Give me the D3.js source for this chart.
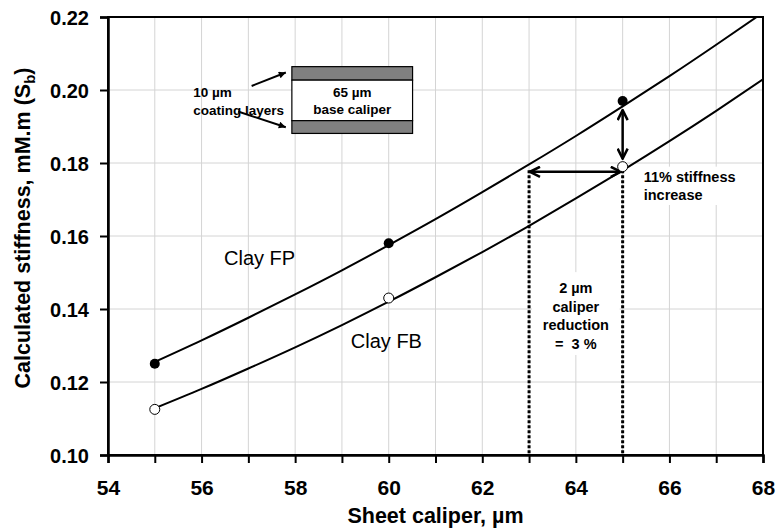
<!DOCTYPE html>
<html lang="en">
<head>
<meta charset="utf-8">
<title>Calculated stiffness vs sheet caliper</title>
<script src="https://cdn.jsdelivr.net/npm/d3@7/dist/d3.min.js"></script>
<style>
body{margin:0;background:#fff;}
svg{display:block;font-family:"Liberation Sans",Arial,sans-serif;}
.lbl{font-weight:bold;font-size:14.5px;fill:#000;}
.ins{font-weight:bold;font-size:13.5px;fill:#000;}
</style>
</head>
<body>
<div id="chart"></div>
<script>
var width = 777,
    height = 529;
var margin = {top: 17, right: 14, bottom: 74, left: 108};

// measured points
var ptsX = [55, 60, 65];
var clayFP = [0.125, 0.158, 0.197];
var clayFB = [0.1125, 0.143, 0.179];

// fitted curves at each micron
var curveX = [55, 56, 57, 58, 59, 60, 61, 62, 63, 64, 65, 66, 67, 68];
var curveFP = [0.1255, 0.1314, 0.1376, 0.1440, 0.1506, 0.1575, 0.1646, 0.1720, 0.1796, 0.1874, 0.1955, 0.2038, 0.2124, 0.2212];
var curveFB = [0.1128, 0.1181, 0.1237, 0.1295, 0.1356, 0.1420, 0.1487, 0.1556, 0.1628, 0.1703, 0.1780, 0.1860, 0.1943, 0.2029];

var xTicks = [54, 56, 58, 60, 62, 64, 66, 68];
var xMinor = [55, 57, 59, 61, 63, 65, 67];
var yTicks = [0.10, 0.12, 0.14, 0.16, 0.18, 0.20, 0.22];

var svg = d3.select("#chart").append("svg")
    .attr("width", width)
    .attr("height", height);

var iw = width - margin.left - margin.right,
    ih = height - margin.top - margin.bottom;

var x = d3.scaleLinear().domain([54, 68]).range([0, iw]);
var y = d3.scaleLinear().domain([0.10, 0.22]).range([ih, 0]);

var defs = svg.append("defs");
defs.append("clipPath").attr("id", "clip")
  .append("rect").attr("width", iw).attr("height", ih);
// open chevron head for the big arrows
defs.append("marker").attr("id", "chev")
    .attr("viewBox", "0 0 12 12").attr("refX", 11).attr("refY", 6)
    .attr("markerWidth", 12).attr("markerHeight", 12)
    .attr("markerUnits", "userSpaceOnUse").attr("orient", "auto-start-reverse")
  .append("path").attr("d", "M1,1 L11,6 L1,11")
    .attr("fill", "none").attr("stroke", "#000").attr("stroke-width", 2.5);
// small filled head for the inset arrows
defs.append("marker").attr("id", "tri")
    .attr("viewBox", "0 0 10 10").attr("refX", 10).attr("refY", 5)
    .attr("markerWidth", 9).attr("markerHeight", 7)
    .attr("markerUnits", "userSpaceOnUse").attr("orient", "auto")
  .append("path").attr("d", "M0,0 L10,5 L0,10 z").attr("fill", "#000");

var g = svg.append("g").attr("transform", "translate(" + margin.left + "," + margin.top + ")");

// grid
g.append("g").selectAll("line").data(d3.range(55, 68))
  .enter().append("line")
    .attr("x1", function(d){ return x(d); }).attr("x2", function(d){ return x(d); })
    .attr("y1", 0).attr("y2", ih)
    .attr("stroke", "#d4d4d4").attr("stroke-width", 1);
g.append("g").selectAll("line").data(yTicks.slice(1, -1))
  .enter().append("line")
    .attr("x1", 0).attr("x2", iw)
    .attr("y1", function(d){ return y(d); }).attr("y2", function(d){ return y(d); })
    .attr("stroke", "#d4d4d4").attr("stroke-width", 1);

// frame
g.append("rect").attr("width", iw).attr("height", ih)
  .attr("fill", "none").attr("stroke", "#000").attr("stroke-width", 2);

// axes
var xAxis = g.append("g").attr("transform", "translate(0," + ih + ")")
  .call(d3.axisBottom(x).tickValues(xTicks).tickFormat(d3.format("d")).tickSize(8).tickPadding(17));
g.append("g").attr("transform", "translate(0," + ih + ")")
  .call(d3.axisBottom(x).tickValues(xMinor).tickFormat("").tickSize(8))
  .select(".domain").remove();
var yAxis = g.append("g")
  .call(d3.axisLeft(y).tickValues(yTicks).tickFormat(d3.format(".2f")).tickSize(8).tickPadding(11));
svg.selectAll(".domain").attr("stroke-width", 2.5);
svg.selectAll(".tick line").attr("stroke-width", 2);
xAxis.attr("font-family", null).attr("font-size", 21).attr("font-weight", "bold");
yAxis.attr("font-family", null).attr("font-size", 20).attr("font-weight", "bold");
yAxis.selectAll(".tick text").attr("dy", "0.36em");

// curves
var line = d3.line()
  .x(function(d){ return x(d[0]); })
  .y(function(d){ return y(d[1]); })
  .curve(d3.curveNatural);
var curves = g.append("g").attr("clip-path", "url(#clip)");
[curveFP, curveFB].forEach(function(vals){
  curves.append("path")
    .datum(d3.zip(curveX, vals))
    .attr("d", line)
    .attr("fill", "none").attr("stroke", "#000").attr("stroke-width", 2);
});

// inset diagram: coating layers around the base sheet
var inX0 = 57.93, inX1 = 60.51;
var inset = g.append("g");
var layers = [[0.2064, 0.2027, "#808080"], [0.2027, 0.1916, "#fff"], [0.1916, 0.1881, "#808080"]];
inset.selectAll("rect").data(layers).enter().append("rect")
  .attr("x", x(inX0)).attr("width", x(inX1) - x(inX0))
  .attr("y", function(d){ return y(d[0]); })
  .attr("height", function(d){ return y(d[1]) - y(d[0]); })
  .attr("fill", function(d){ return d[2]; })
  .attr("stroke", "#000").attr("stroke-width", 1.2);
inset.append("text").attr("class", "ins").attr("text-anchor", "middle")
  .attr("x", x((inX0 + inX1) / 2)).attr("y", y(0.1981)).text("65 µm");
inset.append("text").attr("class", "ins").attr("text-anchor", "middle")
  .attr("x", x((inX0 + inX1) / 2)).attr("y", y(0.1934)).text("base caliper");
inset.append("text").attr("class", "ins")
  .attr("x", x(55.82)).attr("y", y(0.1981)).text("10 µm");
inset.append("text").attr("class", "ins")
  .attr("x", x(55.82)).attr("y", y(0.1932)).text("coating layers");
inset.append("line")
  .attr("x1", x(57.07)).attr("y1", y(0.2011)).attr("x2", x(57.80)).attr("y2", y(0.2048))
  .attr("stroke", "#000").attr("stroke-width", 2).attr("marker-end", "url(#tri)");
inset.append("line")
  .attr("x1", x(56.78)).attr("y1", y(0.1941)).attr("x2", x(57.80)).attr("y2", y(0.1898))
  .attr("stroke", "#000").attr("stroke-width", 2).attr("marker-end", "url(#tri)");

// series labels
g.append("text").attr("x", x(56.48)).attr("y", y(0.1521)).attr("font-size", 20).text("Clay FP");
g.append("text").attr("x", x(59.19)).attr("y", y(0.1293)).attr("font-size", 20).text("Clay FB");

// caliper reduction: dotted drops and double arrow
var gap = g.append("g");
[63, 65].forEach(function(v){
  gap.append("line")
    .attr("x1", x(v)).attr("x2", x(v)).attr("y1", y(0.178)).attr("y2", ih)
    .attr("stroke", "#000").attr("stroke-width", 3).attr("stroke-dasharray", "3,2");
});
gap.append("rect").attr("x", x(63) + 3).attr("width", x(65) - x(63) - 6)
  .attr("y", y(0.1501)).attr("height", y(0.1274) - y(0.1501)).attr("fill", "#fff");
["2 µm", "caliper", "reduction", "=  3 %"].forEach(function(t, i){
  gap.append("text").attr("class", "lbl").attr("text-anchor", "middle")
    .attr("x", x(64)).attr("y", y(0.14438) + i * 18.6)
    .attr("xml:space", "preserve")
    .text(t);
});
gap.append("line")
  .attr("x1", x(63.02)).attr("x2", x(64.96)).attr("y1", y(0.1776)).attr("y2", y(0.1776))
  .attr("stroke", "#000").attr("stroke-width", 2.5)
  .attr("marker-start", "url(#chev)").attr("marker-end", "url(#chev)");

// stiffness increase arrow
g.append("line")
  .attr("x1", x(65)).attr("x2", x(65)).attr("y1", y(0.1945)).attr("y2", y(0.1812))
  .attr("stroke", "#000").attr("stroke-width", 2.5)
  .attr("marker-start", "url(#chev)").attr("marker-end", "url(#chev)");
g.append("rect").attr("x", x(65.45)).attr("width", x(67.7) - x(65.45))
  .attr("y", y(0.1790)).attr("height", y(0.1685) - y(0.1790)).attr("fill", "#fff");
g.append("text").attr("class", "lbl").attr("x", x(65.45)).attr("y", y(0.1748)).text("11% stiffness");
g.append("text").attr("class", "lbl").attr("x", x(65.45)).attr("y", y(0.1699)).text("increase");

// measured points
g.append("g").selectAll("circle").data(d3.zip(ptsX, clayFP))
  .enter().append("circle")
    .attr("cx", function(d){ return x(d[0]); }).attr("cy", function(d){ return y(d[1]); })
    .attr("r", 5).attr("fill", "#000");
g.append("g").selectAll("circle").data(d3.zip(ptsX, clayFB))
  .enter().append("circle")
    .attr("cx", function(d){ return x(d[0]); }).attr("cy", function(d){ return y(d[1]); })
    .attr("r", 5).attr("fill", "#fff").attr("stroke", "#000").attr("stroke-width", 1);

// axis titles
svg.append("text").attr("text-anchor", "middle")
  .attr("x", margin.left + iw / 2).attr("y", 523)
  .attr("font-size", 21.5).attr("font-weight", "bold").text("Sheet caliper, µm");
var yt = svg.append("text").attr("text-anchor", "middle")
  .attr("transform", "translate(30," + (margin.top + ih / 2 - 8) + ") rotate(-90)")
  .attr("font-size", 21.5).attr("font-weight", "bold");
yt.append("tspan").text("Calculated stiffness, mM.m (S");
yt.append("tspan").attr("font-size", 15).attr("dy", 5).text("b");
yt.append("tspan").attr("dy", -5).text(")");
</script>
</body>
</html>
